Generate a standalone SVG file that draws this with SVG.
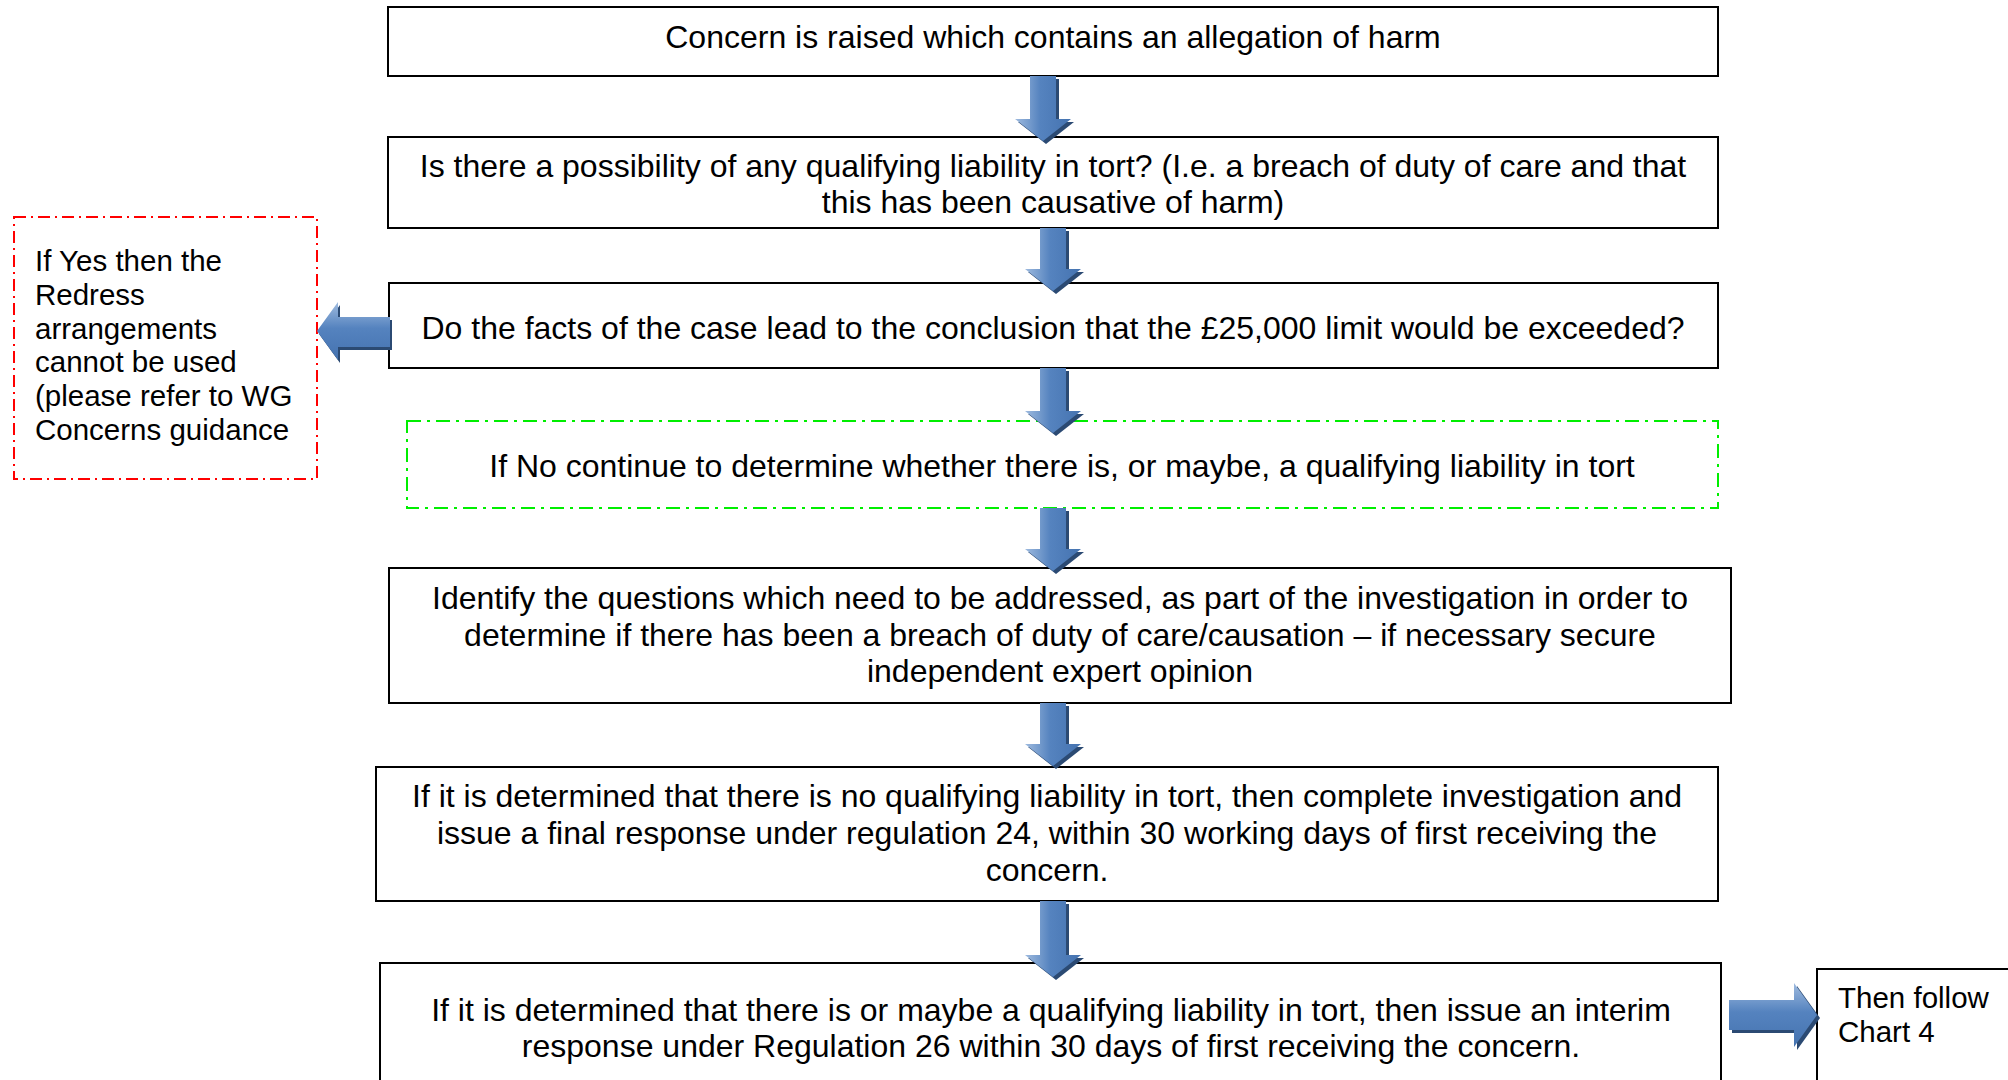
<svg xmlns="http://www.w3.org/2000/svg" width="2008" height="1080" viewBox="0 0 2008 1080">
<style>
.box{fill:#fff;stroke:#000;stroke-width:2}
.red{fill:#fff;stroke:#ff0000;stroke-width:2;stroke-dasharray:12 5 2 5}
.green{fill:#fff;stroke:#00ee00;stroke-width:2;stroke-dasharray:14 6 3 6}
.t{font-family:"Liberation Sans",Arial,sans-serif;font-size:32px;fill:#000;text-anchor:middle}
.s{font-family:"Liberation Sans",Arial,sans-serif;font-size:29.5px;fill:#000}
.av{fill:url(#gv)}
.ah{fill:url(#gh)}
.ash{fill:#2b4a73}
</style>
<defs>
<linearGradient id="gv" x1="0" y1="0" x2="1" y2="0">
<stop offset="0" stop-color="#9fbbdf"/>
<stop offset="0.45" stop-color="#5583bf"/>
<stop offset="1" stop-color="#4573b0"/>
</linearGradient>
<linearGradient id="gh" x1="0" y1="0" x2="0" y2="1">
<stop offset="0" stop-color="#9fbbdf"/>
<stop offset="0.45" stop-color="#5583bf"/>
<stop offset="1" stop-color="#4573b0"/>
</linearGradient>
</defs>
<rect width="2008" height="1080" fill="#fff"/>
<g id="n1">
<rect class="box" x="388" y="7" width="1330" height="69"/>
<text class="t" x="1053" y="48">Concern is raised which contains an allegation of harm</text>
</g>
<g id="n2">
<rect class="box" x="388" y="137" width="1330" height="91"/>
<text class="t" x="1053" y="177">Is there a possibility of any qualifying liability in tort? (I.e. a breach of duty of care and that</text>
<text class="t" x="1053" y="213">this has been causative of harm)</text>
</g>
<g id="n3">
<rect class="box" x="389" y="283" width="1329" height="85"/>
<text class="t" x="1053" y="339">Do the facts of the case lead to the conclusion that the £25,000 limit would be exceeded?</text>
</g>
<g id="n4">
<rect class="red" x="14" y="217" width="303" height="262"/>
<text class="s" x="35" y="271">If Yes then the</text>
<text class="s" x="35" y="305">Redress</text>
<text class="s" x="35" y="339">arrangements</text>
<text class="s" x="35" y="372">cannot be used</text>
<text class="s" x="35" y="406">(please refer to WG</text>
<text class="s" x="35" y="440">Concerns guidance</text>
</g>
<g id="n5">
<rect class="green" x="407" y="421" width="1311" height="87"/>
<text class="t" x="1062" y="477">If No continue to determine whether there is, or maybe, a qualifying liability in tort</text>
</g>
<g id="n6">
<rect class="box" x="389" y="568" width="1342" height="135"/>
<text class="t" x="1060" y="609">Identify the questions which need to be addressed, as part of the investigation in order to</text>
<text class="t" x="1060" y="646">determine if there has been a breach of duty of care/causation – if necessary secure</text>
<text class="t" x="1060" y="682">independent expert opinion</text>
</g>
<g id="n7">
<rect class="box" x="376" y="767" width="1342" height="134"/>
<text class="t" x="1047" y="807">If it is determined that there is no qualifying liability in tort, then complete investigation and</text>
<text class="t" x="1047" y="844">issue a final response under regulation 24, within 30 working days of first receiving the</text>
<text class="t" x="1047" y="881">concern.</text>
</g>
<g id="n8">
<rect class="box" x="380" y="963" width="1341" height="140"/>
<text class="t" x="1051" y="1021">If it is determined that there is or maybe a qualifying liability in tort, then issue an interim</text>
<text class="t" x="1051" y="1057">response under Regulation 26 within 30 days of first receiving the concern.</text>
</g>
<g id="n9">
<rect class="box" x="1817" y="969" width="220" height="140"/>
<text class="s" x="1838" y="1008">Then follow</text>
<text class="s" x="1838" y="1042">Chart 4</text>
</g>
<g id="connectors">
<path class="ash" transform="translate(3,3)" d="M1030 76 H1056 V119 H1071 L1043 141 L1015 119 H1030 Z"/>
<path class="av" d="M1030 76 H1056 V119 H1071 L1043 141 L1015 119 H1030 Z"/>
<path class="ash" transform="translate(3,3)" d="M1040 228 H1066 V269 H1081 L1053 291 L1025 269 H1040 Z"/>
<path class="av" d="M1040 228 H1066 V269 H1081 L1053 291 L1025 269 H1040 Z"/>
<path class="ash" transform="translate(3,3)" d="M1040 368 H1066 V411 H1081 L1053 433 L1025 411 H1040 Z"/>
<path class="av" d="M1040 368 H1066 V411 H1081 L1053 433 L1025 411 H1040 Z"/>
<path class="ash" transform="translate(3,3)" d="M1040 508 H1066 V549 H1081 L1053 571 L1025 549 H1040 Z"/>
<path class="av" d="M1040 508 H1066 V549 H1081 L1053 571 L1025 549 H1040 Z"/>
<path class="ash" transform="translate(3,3)" d="M1040 703 H1066 V744 H1081 L1053 766 L1025 744 H1040 Z"/>
<path class="av" d="M1040 703 H1066 V744 H1081 L1053 766 L1025 744 H1040 Z"/>
<path class="ash" transform="translate(3,3)" d="M1040 901 H1066 V955 H1081 L1053 977 L1025 955 H1040 Z"/>
<path class="av" d="M1040 901 H1066 V955 H1081 L1053 977 L1025 955 H1040 Z"/>
<path class="ash" transform="translate(2,3)" d="M390 317 H338 V302 L317 331 L338 360 V347 H390 Z"/>
<path class="ah" d="M390 317 H338 V302 L317 331 L338 360 V347 H390 Z"/>
<path class="ash" transform="translate(3,3)" d="M1729 1000 H1794 V983 L1817 1015 L1794 1047 V1030 H1729 Z"/>
<path class="ah" d="M1729 1000 H1794 V983 L1817 1015 L1794 1047 V1030 H1729 Z"/>
</g>
</svg>
